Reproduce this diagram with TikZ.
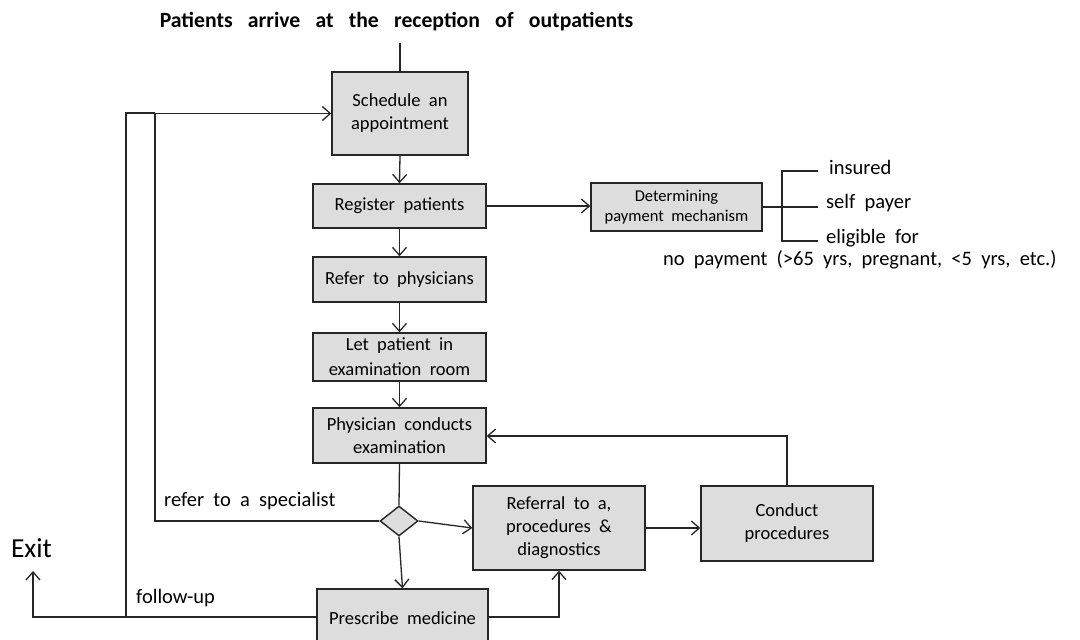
\documentclass[tikz,border=0pt]{standalone}
\usepackage{fontspec}
\setmainfont{Carlito}
\usetikzlibrary{arrows.meta,shapes.geometric}
\newcommand{\widesp}{\spaceskip 0.45em plus 0.1em\relax}
\newcommand{\titlesp}{\spaceskip 0.7em plus 0.1em\relax}
\begin{document}
\begin{tikzpicture}[x=1pt,y=-1pt,
  box/.style={draw=black!85, fill=gray!27, line width=1.4pt, align=center,
    font={\fontsize{18.5}{23}\selectfont\widesp}, inner sep=0pt},
  conn/.style={line width=1.3pt, draw=black!85},
  arr/.style={conn, -{Straight Barb[length=8pt,width=14pt,line width=1.3pt]}},
  lbl/.style={font={\fontsize{20.5}{25}\selectfont\widesp}, inner sep=0pt}]
\useasboundingbox (0,0) rectangle (1080,640);

% title
\node[font={\bfseries\fontsize{21.7}{26}\selectfont\titlesp}, inner sep=0pt] (title) at (396.5,22)
  {Patients arrive at the reception of outpatients};
\coordinate (tl) at (400,43);

% boxes
\node[box, minimum width=136pt, minimum height=83pt] (sched) at (400,113.5) {Schedule an\\appointment};
\node[box, minimum width=173pt, minimum height=44pt] (reg) at (399.5,206) {Register patients};
\node[box, minimum width=173pt, minimum height=45pt] (refer) at (399.5,279.5) {Refer to physicians};
\node[box, minimum width=173pt, minimum height=48pt, font={\fontsize{18.5}{25}\selectfont\widesp}] (let) at (399.5,357) {Let patient in\\examination room};
\node[box, minimum width=173pt, minimum height=55pt] (phys) at (399.5,435.5) {Physician conducts\\examination};
\node[box, diamond, minimum width=38pt, minimum height=30pt] (dec) at (399,521) {};
\node[box, minimum width=172pt, minimum height=84pt] (refd) at (559,528) {Referral to a,\\procedures \&\\diagnostics};
\node[box, minimum width=172pt, minimum height=75pt] (cond) at (787,523.5) {Conduct\\procedures};
\node[box, minimum width=171pt, minimum height=58pt] (presc) at (402.5,618) {Prescribe medicine};
\node[box, minimum width=171pt, minimum height=48pt, font={\fontsize{16.5}{20}\selectfont\widesp}] (det) at (676.5,207) {Determining\\payment mechanism};

% side labels
\node[lbl, anchor=west] (ins) at (829,167) {insured};
\node[lbl, anchor=west] (self) at (826,203) {self payer};
\node[lbl, anchor=west] (elig) at (826,238) {eligible for};
\node[lbl, anchor=west] (nopay) at (663,260) {no payment (>65 yrs, pregnant, <5 yrs, etc.)};
\node[lbl, anchor=west] (spec) at (164,501) {refer to a specialist};
\node[lbl, anchor=west] (fu) at (136,598) {follow-up};
\node[font={\fontsize{27.5}{32}\selectfont}, inner sep=0pt] (exit) at (31.5,548) {Exit};
\coordinate (exitpt) at (33,571);

% connectors
\draw[conn] (tl) -- (sched.north);
\draw[arr] (sched.south) -- (reg.north);
\draw[arr] (reg.south) -- (refer.north);
\draw[arr] (refer.south) -- (let.north);
\draw[arr] (let.south) -- (phys.north);
\draw[conn] (phys.south) -- (dec.north);
\draw[arr] (dec.south) -- (presc.north);
\draw[arr] (dec.east) -- (refd.west);
\draw[arr] (refd.east) -- (refd.east -| cond.west);
\draw[arr] (cond.north) |- (phys.east |- 0,436);
\draw[arr] (presc.east |- 0,617) -| (refd.south);
\draw[arr] (dec.west) -- (155,521) |- (sched.west);
\draw[conn] (presc.west |- 0,617) -- (126,617) -- (126,113) -- (155,113);
\draw[arr] (126,617) -| (exitpt);
\draw[arr] (reg.east) -- (det.west |- reg.east);
\draw[conn] (det.east) -- (782,207);
\draw[conn] (818,171) -- (782,171) -- (782,241) -- (818,241);
\draw[conn] (782,207) -- (818,207);
\end{tikzpicture}
\end{document}
